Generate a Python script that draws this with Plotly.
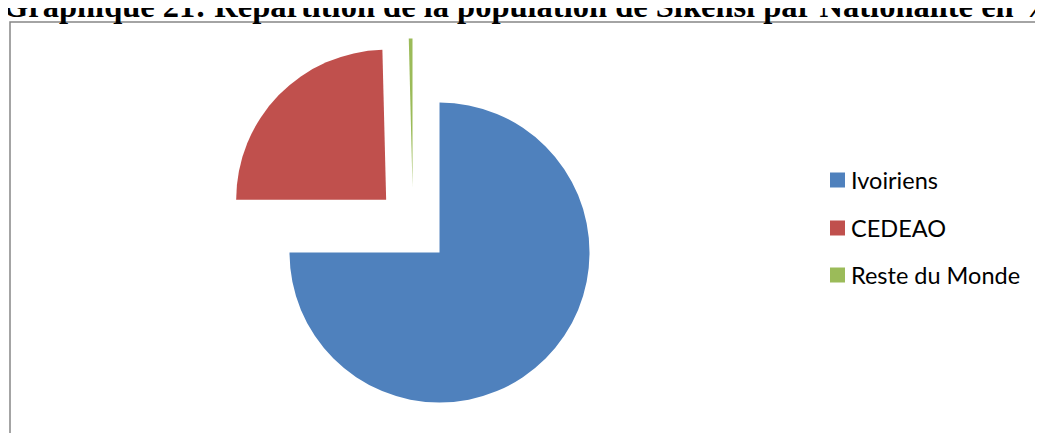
import plotly.graph_objects as go

labels = ["Ivoiriens", "CEDEAO", "Reste du Monde"]
values = [75.0, 24.6, 0.4]
colors = ["#4F81BD", "#C0504D", "#9BBB59"]
title_text = "Graphique 21: Répartition de la population de Sikensi par Nationalité en %"

W, H = 1043, 433
OFF = 8  # page body margin

def px_x(x):
    return (x - OFF) / W

def px_y(y):
    return 1 - (y - OFF) / H

fig = go.Figure()
fig.add_trace(go.Pie(
    labels=labels,
    values=values,
    marker=dict(colors=colors, line=dict(width=0)),
    sort=False,
    direction="clockwise",
    rotation=0,
    pull=[0.25, 0.25, 0.25],
    textinfo="none",
    showlegend=False,
    domain=dict(x=[px_x(225.5), px_x(600.5)], y=[px_y(413.5), px_y(38.5)]),
))

shapes = [
    dict(type="rect", xref="paper", yref="paper",
         x0=px_x(10), x1=px_x(1070), y0=px_y(460), y1=px_y(22),
         line=dict(color="#868686", width=1.5), fillcolor="rgba(0,0,0,0)")
]
annotations = [
    dict(text="<b>" + title_text + "</b>", xref="paper", yref="paper",
         x=px_x(1), y=px_y(6), xanchor="left", yanchor="middle",
         showarrow=False, font=dict(family="Liberation Serif, Times New Roman, serif", size=32.5, color="#000000"))
]

legend_y = [180, 228, 275]
for lab, col, ly in zip(labels, colors, legend_y):
    shapes.append(dict(type="rect", xref="paper", yref="paper",
                       x0=px_x(830), x1=px_x(845), y0=px_y(ly + 7.5), y1=px_y(ly - 7.5),
                       line=dict(width=0), fillcolor=col))
    annotations.append(dict(text=lab, xref="paper", yref="paper",
                            x=px_x(849), y=px_y(ly), xanchor="left", yanchor="middle",
                            showarrow=False,
                            font=dict(family="Lato, Open Sans, sans-serif", size=23.5, color="#000000")))

fig.update_layout(
    width=W, height=H,
    margin=dict(l=0, r=0, t=0, b=0),
    paper_bgcolor="white",
    plot_bgcolor="white",
    shapes=shapes,
    annotations=annotations,
)

fig.write_html("out.html")
